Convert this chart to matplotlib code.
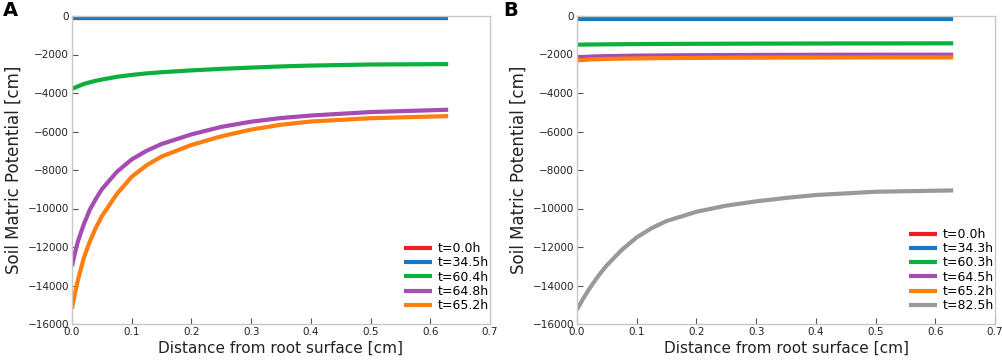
import matplotlib
matplotlib.use("Agg")
import matplotlib.pyplot as plt

# distance from root surface [cm]
x = [0.0, 0.005, 0.01, 0.02, 0.03, 0.04, 0.05, 0.075, 0.1, 0.125, 0.15, 0.2, 0.25, 0.3, 0.35, 0.4, 0.5, 0.63]

# Panel A
labels_a = ["t=0.0h", "t=34.5h", "t=60.4h", "t=64.8h", "t=65.2h"]
a_t0 = [-100] * 18
a_t345 = [-120] * 18
a_t604 = [-3790, -3720, -3650, -3530, -3440, -3365, -3300, -3160, -3060, -2980, -2920, -2825, -2745, -2680, -2620, -2575, -2520, -2500]
a_t648 = [-13000, -12300, -11700, -10800, -10050, -9500, -9000, -8100, -7450, -7000, -6650, -6150, -5760, -5490, -5300, -5170, -4990, -4870]
a_t652 = [-15200, -14400, -13700, -12550, -11700, -11000, -10400, -9250, -8350, -7750, -7300, -6700, -6250, -5900, -5650, -5480, -5310, -5200]

# Panel B
labels_b = ["t=0.0h", "t=34.3h", "t=60.3h", "t=64.5h", "t=65.2h", "t=82.5h"]
b_t0 = [-60] * 18
b_t343 = [-180] * 18
b_t603 = [-1490, -1488, -1485, -1480, -1478, -1475, -1472, -1465, -1460, -1455, -1450, -1445, -1440, -1435, -1432, -1428, -1424, -1420]
b_t645 = [-2150, -2140, -2130, -2115, -2100, -2092, -2085, -2070, -2060, -2052, -2045, -2035, -2028, -2022, -2018, -2015, -2012, -2010]
b_t652 = [-2310, -2297, -2285, -2265, -2250, -2240, -2230, -2215, -2205, -2195, -2188, -2178, -2170, -2164, -2160, -2157, -2153, -2150]
b_t825 = [-15260, -14980, -14700, -14200, -13750, -13330, -12950, -12150, -11500, -11020, -10650, -10170, -9850, -9630, -9450, -9300, -9130, -9060]

colors = ["#ee1c25", "#1a78c2", "#0db03c", "#a64ab4", "#ff7f0e", "#999999"]

xticks = [0.0, 0.1, 0.2, 0.3, 0.4, 0.5, 0.6, 0.7]
yticks = [0, -2000, -4000, -6000, -8000, -10000, -12000, -14000, -16000]

W, H = 1003, 360
fig = plt.figure(figsize=(W / 100, H / 100), dpi=100)
axA = fig.add_axes([72 / W, 36 / H, 418 / W, 308 / H])
axB = fig.add_axes([577 / W, 36 / H, 418 / W, 308 / H])

def style(ax, series, labels):
    for s, lab, c in zip(series, labels, colors):
        ax.plot(x, s, color=c, lw=3.0, label=lab, solid_capstyle="butt")
    ax.set_xlim(0, 0.7)
    ax.set_ylim(-16000, 0)
    ax.set_xticks(xticks)
    ax.set_xticklabels([f"{t:.1f}" for t in xticks])
    ax.set_yticks(yticks)
    ax.set_yticklabels([f"{t}".replace("-", "\u2212") for t in yticks])
    ax.tick_params(direction="in", length=4, width=0.8, color="#555555",
                   labelsize=7.5, labelcolor="#222222", pad=2)
    for sp in ax.spines.values():
        sp.set_color("#c8c8c8")
        sp.set_linewidth(1.0)
    ax.set_xlabel("Distance from root surface [cm]", fontsize=11, color="#222222")
    ax.set_ylabel("Soil Matric Potential [cm]", fontsize=12, color="#222222")
    ax.xaxis.set_label_coords(0.5, -0.078)
    ax.xaxis.label.set_va("center")
    ax.yaxis.set_label_coords(-0.14, 0.5)
    ax.yaxis.label.set_va("center")
    ax.legend(loc="lower right", frameon=False, fontsize=9, labelspacing=0.1,
              handlelength=2.2, handletextpad=0.5, borderaxespad=0.4,
              borderpad=0.3, bbox_to_anchor=(1 + 8 / 418, 3 / 308))

style(axA, [a_t0, a_t345, a_t604, a_t648, a_t652], labels_a)
style(axB, [b_t0, b_t343, b_t603, b_t645, b_t652, b_t825], labels_b)

fig.text(3 / W, 1 - 1 / H, "A", fontsize=14, fontweight="bold", va="top", ha="left")
fig.text(503 / W, 1 - 1 / H, "B", fontsize=14, fontweight="bold", va="top", ha="left")

fig.savefig("out.png", dpi=100)
